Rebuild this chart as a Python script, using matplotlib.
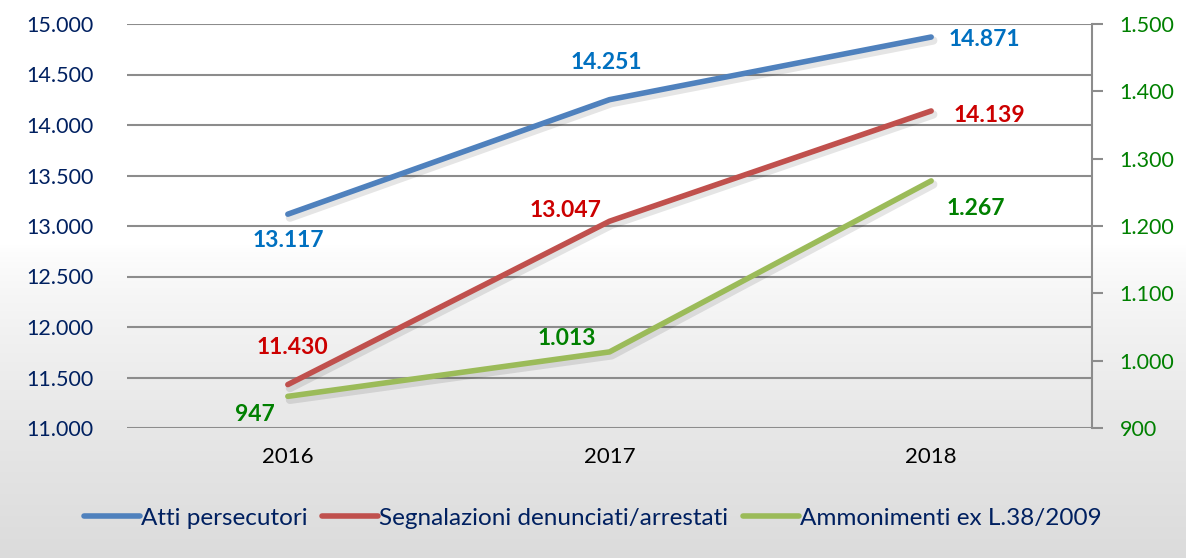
import numpy as np
import matplotlib
matplotlib.use("Agg")
import matplotlib.pyplot as plt
import matplotlib.patheffects as pe
from matplotlib.ticker import FuncFormatter

years = ["2016", "2017", "2018"]
atti = [13117, 14251, 14871]
segnalazioni = [11430, 13047, 14139]
ammonimenti = [947, 1013, 1267]

series_names = ["Atti persecutori", "Segnalazioni denunciati/arrestati",
                "Ammonimenti ex L.38/2009"]

plt.rcParams["font.family"] = ["Lato", "DejaVu Sans"]

fig = plt.figure(figsize=(11.86, 5.58), dpi=100)

# background: white at top fading to light grey at the bottom
bg = fig.add_axes([0, 0, 1, 1], zorder=-10)
h = 558
grad = np.ones(h)
start = 245
for i in range(h):
    if i > start:
        t = (i - start) / (h - start)
        grad[i] = 1.0 - 0.14 * t ** 0.75
img = np.tile(grad[:, None], (1, 10))
bg.imshow(np.dstack([img, img, img]), aspect="auto", extent=[0, 1, 0, 1],
          interpolation="bilinear")
bg.set_axis_off()

def it_fmt(v, _):
    return f"{int(round(v)):,}".replace(",", ".")

left, right = 127 / 1186, 1092 / 1186
top, bottom = 1 - 24 / 558, 1 - 428 / 558
ax = fig.add_axes([left, bottom, right - left, top - bottom])
ax.patch.set_alpha(0)
ax2 = ax.twinx()
ax2.patch.set_alpha(0)

x = np.arange(len(years))
shadow = [pe.SimpleLineShadow(offset=(1.5, -2.5), shadow_color="black",
                              alpha=0.10, linewidth=6), pe.Normal()]

l1, = ax.plot(x, atti, color="#4F81BD", lw=4, solid_capstyle="round",
              path_effects=shadow, zorder=5, label=series_names[0])
l2, = ax.plot(x, segnalazioni, color="#C0504D", lw=4, solid_capstyle="round",
              path_effects=shadow, zorder=5, label=series_names[1])
l3, = ax2.plot(x, ammonimenti, color="#9BBB59", lw=4, solid_capstyle="round",
               path_effects=shadow, zorder=5, label=series_names[2])

ax.set_xlim(-0.5, 2.5)
ax.set_ylim(11000, 15000)
ax2.set_ylim(900, 1500)
ax.set_yticks(np.arange(11000, 15001, 500))
ax2.set_yticks(np.arange(900, 1501, 100))
ax.yaxis.set_major_formatter(FuncFormatter(it_fmt))
ax2.yaxis.set_major_formatter(FuncFormatter(it_fmt))

ax.grid(axis="y", color="#8c8c8c", lw=1.5)
ax.set_axisbelow(True)
for s in ["top", "left", "bottom"]:
    ax.spines[s].set_visible(False)
    ax2.spines[s].set_visible(False)
ax.spines["right"].set_visible(False)
ax2.spines["right"].set_color("#8c8c8c")
ax2.spines["right"].set_linewidth(1.5)

ax.tick_params(axis="y", length=0, pad=24, labelsize=15.5, labelcolor="#002060")
ax2.tick_params(axis="y", length=8, width=1.5, color="#8c8c8c", pad=12,
                labelsize=15.5, labelcolor="#008000")
ax.set_xticks(x)
ax.set_xticklabels(years)
ax.tick_params(axis="x", length=0, pad=14, labelsize=16, labelcolor="black")

lbl = dict(fontsize=16.5, fontweight="bold", zorder=6)
# data labels (offsets in points)
def label(axis, xi, yi, offs, color, ha="center", va="center"):
    axis.annotate(it_fmt(yi, None), (xi, yi), xytext=offs,
                  textcoords="offset points", color=color, ha=ha, va=va, **lbl)

blue, red, green = "#0070C0", "#CC0000", "#008000"
label(ax, 0, atti[0], (0, -19), blue)
label(ax, 1, atti[1], (-2, 27), blue)
label(ax, 2, atti[2], (38, -2), blue)
label(ax, 0, segnalazioni[0], (3, 27), red)
label(ax, 1, segnalazioni[1], (-32, 8), red)
label(ax, 2, segnalazioni[2], (42, -3), red)
label(ax2, 0, ammonimenti[0], (-24, -13), green)
label(ax2, 1, ammonimenti[1], (-31, 10), green)
label(ax2, 2, ammonimenti[2], (32, -20), green)

leg = fig.legend(handles=[l1, l2, l3], loc="center", ncol=3,
                 bbox_to_anchor=(0.5, 1 - 518 / 558), frameon=False,
                 fontsize=17.5, handlelength=2.3, handletextpad=0.05,
                 columnspacing=0.6)
for t in leg.get_texts():
    t.set_color("#002060")
for hl in leg.legend_handles:
    hl.set_path_effects([])

fig.savefig("out.png", dpi=100)
